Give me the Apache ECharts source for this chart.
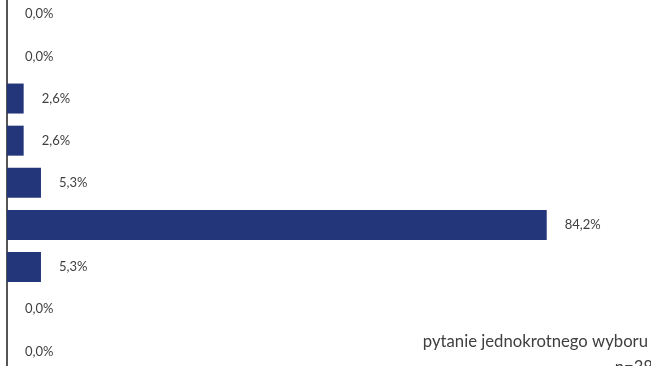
<!DOCTYPE html>
<html>
<head>
<meta charset="utf-8">
<style>html,body{margin:0;padding:0;background:#fff;overflow:hidden;width:651px;height:366px}#c{width:651px;height:380px;position:absolute;left:0;top:-7px}</style>
<script src="https://cdn.jsdelivr.net/npm/echarts@6/dist/echarts.min.js"></script>
</head>
<body>
<div id="c"></div>
<script>
var categories = ['1', '2', '3', '4', '5', '6', '7', '8', '9'];
var values = [0.0, 0.0, 2.6, 2.6, 5.3, 84.2, 5.3, 0.0, 0.0];
var captionLine1 = 'pytanie jednokrotnego wyboru';
var captionLine2 = 'n=38';

var chart = echarts.init(document.getElementById('c'), null, {renderer: 'canvas'});
chart.setOption({
  animation: false,
  grid: {left: 7, top: 0.2, width: 641, height: 379.2, containLabel: false},
  xAxis: {
    type: 'value', min: 0, max: 100, show: false
  },
  yAxis: {
    type: 'category', data: categories, inverse: true, offset: 1,
    axisLine: {show: true, lineStyle: {color: '#555555', width: 2}},
    axisTick: {show: false}, axisLabel: {show: false}, splitLine: {show: false}
  },
  series: [{
    type: 'bar',
    data: values,
    barWidth: 30,
    itemStyle: {color: '#24367A'},
    label: {
      show: true, position: 'right', distance: 18,
      fontFamily: 'Lato', fontSize: 13, color: '#404040',
      formatter: function (p) { return p.value.toFixed(1).replace('.', ',') + '%'; }
    }
  }],
  graphic: [
    {type: 'text', right: 3, top: 340, style: {text: captionLine1, font: '16.7px Lato', fill: '#404040'}},
    {type: 'text', right: -2, top: 366, style: {text: captionLine2, font: '16.7px Lato', fill: '#404040'}}
  ]
});
</script>
</body>
</html>
